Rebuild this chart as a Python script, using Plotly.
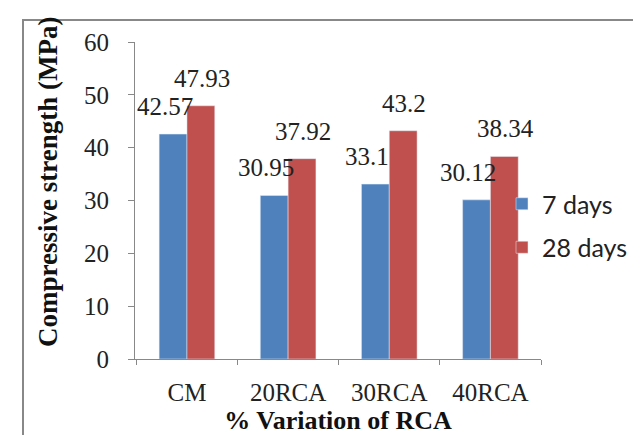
import plotly.graph_objects as go

categories = ["CM", "20RCA", "30RCA", "40RCA"]
days7 = [42.57, 30.95, 33.1, 30.12]
days28 = [47.93, 37.92, 43.2, 38.34]
labels7 = ["42.57", "30.95", "33.1", "30.12"]
labels28 = ["47.93", "37.92", "43.2", "38.34"]

W, H = 641, 435
L, R, T, B = 127, 108, 34, 84
pw, ph = W - L - R, H - T - B
BARGAP = 0.45
bar_px = pw / len(categories) * (1 - BARGAP) / 2

serif = "Liberation Serif, Times New Roman, serif"

fig = go.Figure()
fig.add_trace(go.Bar(x=categories, y=days7, name="7 days", marker_color="#4F81BD",
                     legendgroup="a"))
fig.add_trace(go.Bar(x=categories, y=days28, name="28 days", marker_color="#C0504D",
                     legendgroup="b"))

def px_x(p):
    return (p - L) / pw

def px_y(p):
    return (H - B - p) / ph

annotations = []
lab_font = dict(family=serif, size=25, color="#222")
for c, v, t in zip(categories, days7, labels7):
    annotations.append(dict(x=c, y=v, text=t, showarrow=False, xanchor="center",
                            yanchor="bottom", xshift=-bar_px / 2 - 8, yshift=12,
                            font=lab_font))
for c, v, t in zip(categories, days28, labels28):
    annotations.append(dict(x=c, y=v, text=t, showarrow=False, xanchor="center",
                            yanchor="bottom", xshift=bar_px / 2 + 1, yshift=12,
                            font=lab_font))
annotations.append(dict(xref="paper", yref="paper", x=px_x(40), y=px_y(174),
                        text="<b>Compressive strength (MPa)</b>", textangle=-90,
                        showarrow=False, xanchor="center", yanchor="middle",
                        font=dict(family=serif, size=27, color="#111")))

fig.update_layout(
    width=W, height=H,
    margin=dict(l=L, r=R, t=T, b=B),
    paper_bgcolor="white", plot_bgcolor="white",
    barmode="group", bargap=BARGAP, bargroupgap=0,
    showlegend=True,
    legend=dict(x=px_x(494), y=px_y(173), xanchor="left", yanchor="top",
                font=dict(family="Lato, Open Sans, sans-serif", size=25, color="#222"),
                itemwidth=30, tracegroupgap=8, bgcolor="rgba(0,0,0,0)"),
    xaxis=dict(showline=True, linecolor="#888", linewidth=1, ticks="outside",
               tickson="boundaries", tickcolor="#888", ticklen=5, automargin=False,
               ticklabelstandoff=11,
               tickfont=dict(family=serif, size=25, color="#222"),
               title=dict(text="<b>% Variation of RCA</b>", standoff=5,
                          font=dict(family=serif, size=26, color="#111"))),
    yaxis=dict(range=[0, 60], dtick=10, showline=True, linecolor="#888", linewidth=1,
               ticks="outside", tickcolor="#888", ticklen=6, showgrid=False, zeroline=False,
               automargin=False, ticklabelstandoff=14,
               tickfont=dict(family=serif, size=25, color="#222")),
    annotations=annotations,
    shapes=[dict(type="rect", xref="paper", yref="paper",
                 x0=px_x(15), x1=px_x(636), y0=px_y(440), y1=px_y(12),
                 line=dict(color="#888", width=2), fillcolor="rgba(0,0,0,0)", layer="below")],
)

fig.write_html("out.html")
